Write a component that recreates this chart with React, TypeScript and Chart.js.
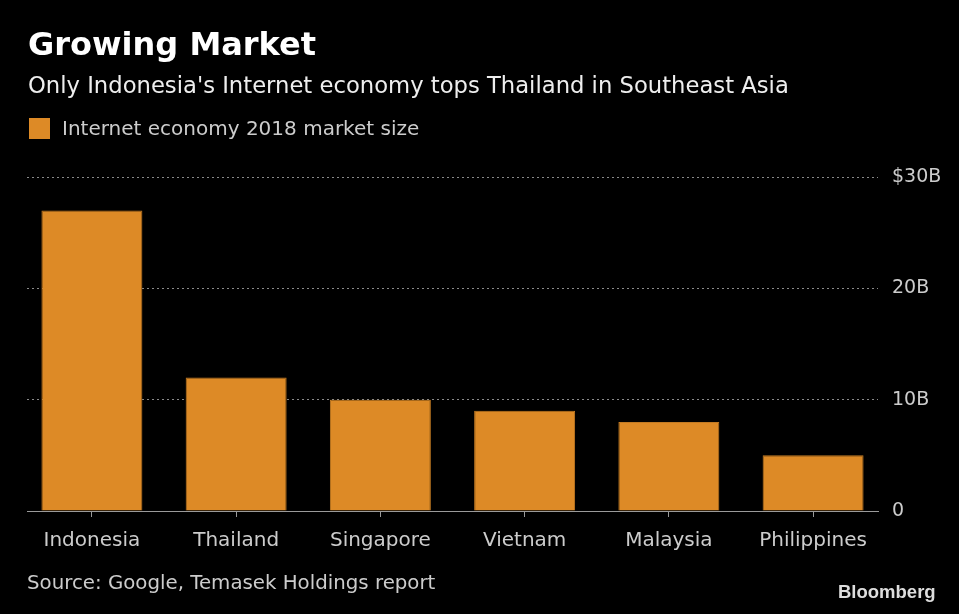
import React, { useEffect, useRef } from "react";
import { Chart, registerables } from "chart.js";

Chart.register(...registerables);

const categories = ["Indonesia", "Thailand", "Singapore", "Vietnam", "Malaysia", "Philippines"];
const marketSize = [27, 12, 10, 9, 8, 5];
const yTicks = [0, 10, 20, 30];
const yTickLabels = ["0", "10B", "20B", "$30B"];
const seriesLabel = "Internet economy 2018 market size";
const titleText = "Growing Market";
const subtitleText = "Only Indonesia's Internet economy tops Thailand in Southeast Asia";
const sourceText = "Source: Google, Temasek Holdings report";

const FONT = '"DejaVu Sans", sans-serif';
const BAR = "#dd8a26";

export default function App() {
  const ref = useRef<HTMLCanvasElement | null>(null);

  useEffect(() => {
    document.body.style.margin = "0";
    document.body.style.background = "#000";
    const canvas = ref.current;
    if (!canvas) return;
    const chart = new Chart(canvas, {
      type: "bar",
      data: {
        datasets: [
          {
            label: seriesLabel,
            data: categories.map((c, i) => ({ x: i, y: marketSize[i] })),
            backgroundColor: BAR,
            borderColor: "#c27a22",
            borderWidth: 1,
            barPercentage: 0.7,
            categoryPercentage: 1,
          },
        ],
      },
      options: {
        responsive: false,
        maintainAspectRatio: false,
        animation: false,
        layout: { padding: { left: 27, right: 0, top: 177, bottom: 0 } },
        plugins: { legend: { display: false }, tooltip: { enabled: false } },
        scales: {
          x: {
            type: "linear",
            min: -0.45,
            max: 5.45,
            offset: false,
            ticks: {
              stepSize: 1,
              includeBounds: false,
              autoSkip: false,
              maxRotation: 0,
              minRotation: 0,
              color: "#cccccc",
              font: { family: FONT, size: 20 },
              padding: 12,
              callback: (v: any) => {
                const i = Math.round(Number(v));
                return Math.abs(Number(v) - i) < 1e-6 && categories[i] ? categories[i] : "";
              },
            },
            grid: { offset: false, drawOnChartArea: false, drawTicks: true, tickLength: 6, color: "#9a9a9a", lineWidth: 1 },
            border: { display: true, color: "#9a9a9a", width: 1 },
            afterFit: (s: any) => {
              s.height = 103;
            },
          },
          y: {
            position: "right",
            min: 0,
            max: 30,
            afterBuildTicks: (s: any) => {
              s.ticks = yTicks.map((v) => ({ value: v }));
            },
            ticks: {
              color: "#cccccc",
              font: { family: FONT, size: 19 },
              padding: 14,
              callback: (v: any) => {
                const idx = yTicks.indexOf(Number(v));
                return idx >= 0 ? yTickLabels[idx] : "";
              },
            },
            grid: {
              drawTicks: false,
              lineWidth: 1,
              color: (ctx: any) => (ctx.tick && ctx.tick.value === 0 ? "rgba(0,0,0,0)" : "#8a8a8a"),
            },
            border: { display: false, dash: [2, 3] },
            afterFit: (s: any) => {
              s.width = 81;
            },
          },
        },
      },
    } as any);
    return () => chart.destroy();
  }, []);

  const abs = (o: React.CSSProperties): React.CSSProperties => ({
    position: "absolute",
    whiteSpace: "nowrap",
    lineHeight: 1,
    fontFamily: FONT,
    margin: 0,
    ...o,
  });

  return (
    <div style={{ position: "fixed", left: 0, top: 0, width: 959, height: 614, background: "#000", overflow: "hidden" }}>
      <canvas ref={ref} width={959} height={614} style={{ position: "absolute", left: 0, top: 0, width: 959, height: 614 }} />
      <div style={abs({ left: 28, top: 28, fontSize: 32, fontWeight: "bold", color: "#ffffff" })}>{titleText}</div>
      <div style={abs({ left: 28, top: 74, fontSize: 22.7, color: "#eeeeee" })}>{subtitleText}</div>
      <div style={abs({ left: 29, top: 118, width: 21, height: 21, background: BAR })} />
      <div style={abs({ left: 62, top: 118, fontSize: 20, color: "#cccccc" })}>{seriesLabel}</div>
      <div style={abs({ left: 27, top: 573, fontSize: 19.8, color: "#cccccc" })}>{sourceText}</div>
      <div
        style={abs({
          left: 838,
          top: 583,
          fontSize: 18.5,
          fontWeight: "bold",
          color: "#dddddd",
          fontFamily: '"Liberation Sans", Arial, sans-serif',
        })}
      >
        Bloomberg
      </div>
    </div>
  );
}
